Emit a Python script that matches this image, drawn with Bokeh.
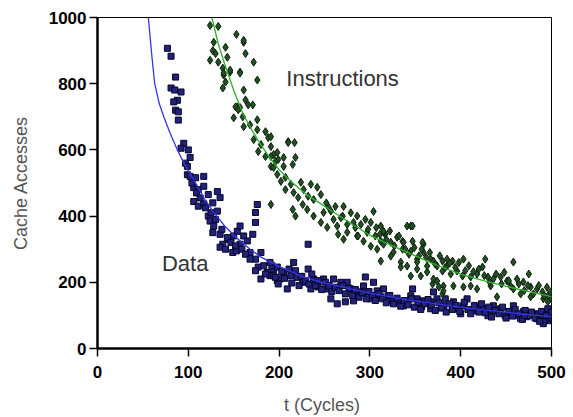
from bokeh.plotting import figure
from bokeh.models import Range1d, FixedTicker, Label
from bokeh.embed import file_html
from bokeh.resources import INLINE

# ---------------- data ----------------
data_t = [77, 81, 86, 81, 85, 92, 88, 84, 86, 89, 89, 95, 100, 92, 102, 97, 99,
          99, 102, 108, 117, 106, 111, 117, 122, 132, 135, 106, 111, 117, 127, 132,
          122, 124, 128, 127, 135, 138, 135, 141, 144, 150, 154, 157, 161, 165, 171,
          157, 149, 153, 168, 174, 174, 176, 174, 180, 177, 183, 174, 187, 190, 194,
          180, 198, 192,
          232, 190, 216, 232, 198, 205, 194, 213, 201, 220, 226, 238, 249, 260, 268,
          275, 243, 235, 254, 209, 199, 257, 264, 273, 282, 286, 295, 293, 304, 308,
          315, 312, 320, 325, 331, 337, 301, 279, 290,
          347, 345, 352, 359, 367, 370, 374, 381, 383, 392, 396, 403, 407, 413, 418,
          425, 433, 436, 444, 449, 455, 458, 462, 469, 473, 479, 484, 490, 496, 497,
          496, 491, 466, 430, 400, 367, 357,
          203, 206, 211, 214, 218, 222, 225, 229, 233, 236, 240, 243, 247, 251, 255,
          258, 262, 266, 270, 273, 277, 281, 284, 288, 292, 296, 299, 303, 306, 310,
          314, 318, 322, 326, 330, 334, 338, 342, 346, 349, 353, 356, 360, 364, 368,
          372, 376, 379, 384, 388, 391, 395, 399, 404, 408, 411, 415, 420, 423, 427,
          431, 434, 438, 442, 446, 450, 453, 457, 460, 464, 468, 471, 475, 478, 482,
          486, 489, 493, 497, 500, 494, 487, 470,
          104, 109, 113, 119, 125, 130, 137, 143, 147, 152, 159, 163, 168, 185, 196]
data_y = [907, 883, 820, 787, 781, 775, 750, 745, 720, 715, 690, 620, 600, 605, 577, 560, 550,
          525, 520, 516, 520, 486, 480, 490, 465, 474, 456, 444, 430, 437, 440, 415,
          400, 385, 370, 350, 345, 315, 306, 300, 330, 340, 354, 370, 340, 325, 345,
          315, 290, 295, 290, 381, 411, 435, 270, 290, 246, 250, 235, 230, 220, 240,
          210, 205, 250,
          315, 260, 260, 240, 246, 230, 220, 220, 210, 215, 200, 210, 210, 210, 200,
          200, 186, 180, 180, 180, 195, 150, 135, 141, 144, 165, 216, 189, 200, 174,
          180, 156, 159, 144, 141, 129, 150, 180, 171,
          180, 159, 150, 144, 141, 171, 150, 129, 150, 141, 120, 129, 150, 114, 126,
          120, 111, 129, 120, 99, 105, 129, 99, 111, 96, 105, 90, 99, 84, 105,
          120, 75, 90, 99, 105, 120, 126,
          232, 212, 240, 198, 235, 190, 218, 205, 195, 225, 190, 205, 178, 200, 190,
          172, 185, 175, 190, 165, 182, 160, 178, 155, 168, 150, 172, 160, 145, 165,
          150, 138, 160, 135, 152, 128, 145, 132, 150, 125, 140, 118, 135, 148, 130,
          115, 138, 122, 110, 135, 118, 130, 112, 140, 118, 105, 130, 110, 135, 108,
          125, 95, 115, 105, 125, 92, 112, 98, 118, 105, 88, 115, 100, 110, 92,
          105, 112, 88, 95, 110, 100, 82, 100,
          500, 470, 455, 425, 410, 390, 360, 335, 320, 310, 300, 285, 270, 225, 215]

instr_t = [124, 133, 153, 128, 161, 141, 127, 130, 163, 133, 124, 143, 172, 138, 146,
           157, 139, 176, 141, 138, 161, 163, 166, 154, 157,
           161, 146, 157, 139, 152, 155, 171, 150, 160, 176, 168, 161, 176, 185, 172,
           180, 188, 191, 177, 194, 199, 185, 191, 196, 205, 210,
           191, 210, 217, 198, 218, 191, 194, 205, 215, 198, 207, 202, 213, 224, 227,
           235, 242, 207, 216, 232, 246, 221, 191, 226, 238, 215, 218, 231, 238, 249,
           254, 262, 271, 286, 304, 260, 270, 246, 253, 264, 275, 282, 290, 301, 312,
           265, 275, 286, 297, 306, 317, 293, 312, 323, 336, 341,
           271, 287, 315, 301, 308, 315, 312, 326, 336, 334, 341,
           345, 315, 330, 337, 359, 345, 323, 352, 367, 374, 334, 352, 363, 345, 374,
           369, 381, 380, 385,
           347, 347, 358, 359, 352, 363, 370, 380, 385, 391, 403, 427, 458, 380, 389,
           396, 402, 411, 418, 424, 430, 436, 444, 451, 462, 469, 475, 477, 484, 490,
           496, 499, 491, 496, 376, 381, 392, 403, 411, 418, 440, 433, 455, 466, 477,
           370, 356,
           252, 257, 268, 279, 284, 295, 298, 307, 311, 318, 322, 327, 332, 339, 343,
           349, 354, 357, 362, 366, 372, 377, 383, 388, 394, 398, 405, 409, 414, 420,
           426, 432, 439, 445, 448, 453, 458, 464, 470, 474, 480, 486, 492, 495, 500]
instr_y = [976, 973, 949, 925, 925, 910, 900, 891, 891, 865, 871, 880, 865, 847, 835,
           835, 826, 811, 805, 787, 781, 751, 736, 730, 728,
           931, 841, 832, 832, 730, 721, 736, 697, 700, 691, 676, 670, 661, 655, 631,
           616, 637, 610, 595, 586, 571, 580, 550, 565, 577, 625,
           640, 622, 622, 592, 577, 580, 547, 550, 556, 526, 517, 505, 496, 502, 480,
           496, 487, 480, 471, 460, 465, 456, 435, 435, 450, 420, 400, 420, 400, 411,
           429, 429, 429, 400, 414, 390, 400, 381, 366, 370, 375, 381, 375, 381, 370,
           345, 351, 340, 351, 340, 345, 324, 324, 321, 324, 370,
           330, 340, 351, 309, 300, 315, 264, 291, 300, 261, 249,
           370, 354, 336, 321, 315, 294, 279, 270, 270, 249, 246, 240, 231, 219, 204,
           195, 189, 165, 270,
           370, 324, 321, 291, 261, 249, 264, 264, 249, 264, 270, 270, 261, 234, 225,
           234, 219, 216, 225, 246, 216, 210, 216, 204, 210, 201, 225, 186, 180, 171,
           159, 171, 150, 141, 186, 174, 189, 186, 189, 180, 156, 189, 189, 165, 156,
           210, 219,
           440, 415, 395, 410, 365, 390, 360, 365, 345, 330, 355, 310, 340, 300, 285,
           305, 280, 300, 275, 290, 255, 280, 245, 258, 245, 260, 235, 250, 232, 240,
           220, 200, 225, 195, 230, 205, 180, 195, 175, 190, 165, 190, 160, 185, 150]

data_fit_t = [56, 60, 63, 68, 73, 80, 88, 97, 106, 117, 128, 140, 155, 168, 180, 200,
              225, 250, 279, 300, 334, 360, 389, 420, 450, 475, 500]
data_fit_y = [1000, 880, 800, 740, 700, 650, 600, 550, 510, 455, 411, 370, 330, 300, 276,
              248, 218, 198, 180, 168, 150, 140, 129, 118, 110, 102, 96]

instr_fit_t = [126, 133, 140, 150, 160, 170, 180, 190, 200, 215, 230, 250, 275, 300,
               325, 350, 375, 400, 425, 450, 475, 500]
instr_fit_y = [1000, 920, 860, 780, 710, 660, 615, 575, 540, 500, 465, 430, 385, 342,
               310, 280, 250, 225, 205, 188, 172, 157]

x_ticks = [0, 100, 200, 300, 400, 500]
y_ticks = [0, 200, 400, 600, 800, 1000]

# ---------------- figure ----------------
p = figure(width=568, height=417, output_backend="svg", toolbar_location=None,
           x_range=Range1d(0, 500), y_range=Range1d(0, 1000),
           min_border_left=97, min_border_top=17, min_border_right=17, min_border_bottom=67)
p.background_fill_color = "white"
p.border_fill_color = "white"
p.outline_line_color = "black"
p.outline_line_width = 1
p.xgrid.visible = False
p.ygrid.visible = False

for ax in (p.xaxis, p.yaxis):
    ax.axis_line_color = "black"
    ax.axis_line_width = 2.5
    ax.major_tick_line_color = "black"
    ax.major_tick_line_width = 1.5
    ax.major_tick_in = 0
    ax.major_tick_out = 8
    ax.minor_tick_line_color = None
    ax.major_label_text_font = "Liberation Sans"
    ax.major_label_text_font_style = "bold"
    ax.major_label_text_font_size = "17px"
    ax.major_label_text_color = "black"
    ax.axis_label_text_font = "Liberation Sans"
    ax.axis_label_text_font_style = "normal"
    ax.axis_label_text_font_size = "18px"
    ax.axis_label_text_color = "#555555"

p.xaxis.ticker = FixedTicker(ticks=x_ticks)
p.yaxis.ticker = FixedTicker(ticks=y_ticks)
p.xaxis.axis_label = "t  (Cycles)"
p.yaxis.axis_label = "Cache Accesses"
p.xaxis.major_label_standoff = 9
p.yaxis.major_label_standoff = 3
p.xaxis.axis_label_standoff = 14
p.yaxis.axis_label_standoff = 15

p.scatter(data_t, data_y, marker="square", size=6, fill_color="#22227a",
          line_color="#05052a", line_width=1)
p.scatter(instr_t, instr_y, marker="diamond", size=8, fill_color="#244f24",
          line_color="#0a200a", line_width=1)

p.line(data_fit_t, data_fit_y, line_color="#3535e6", line_width=1.3)
p.line(instr_fit_t, instr_fit_y, line_color="#2fae2f", line_width=1.3)

p.add_layout(Label(x=208, y=817, text="Instructions", text_font="Liberation Sans",
                   text_font_size="22px", text_color="#333333", text_baseline="middle"))
p.add_layout(Label(x=71, y=258, text="Data", text_font="Liberation Sans",
                   text_font_size="22px", text_color="#333333", text_baseline="middle"))

open("out.html", "w").write(file_html(p, INLINE))
